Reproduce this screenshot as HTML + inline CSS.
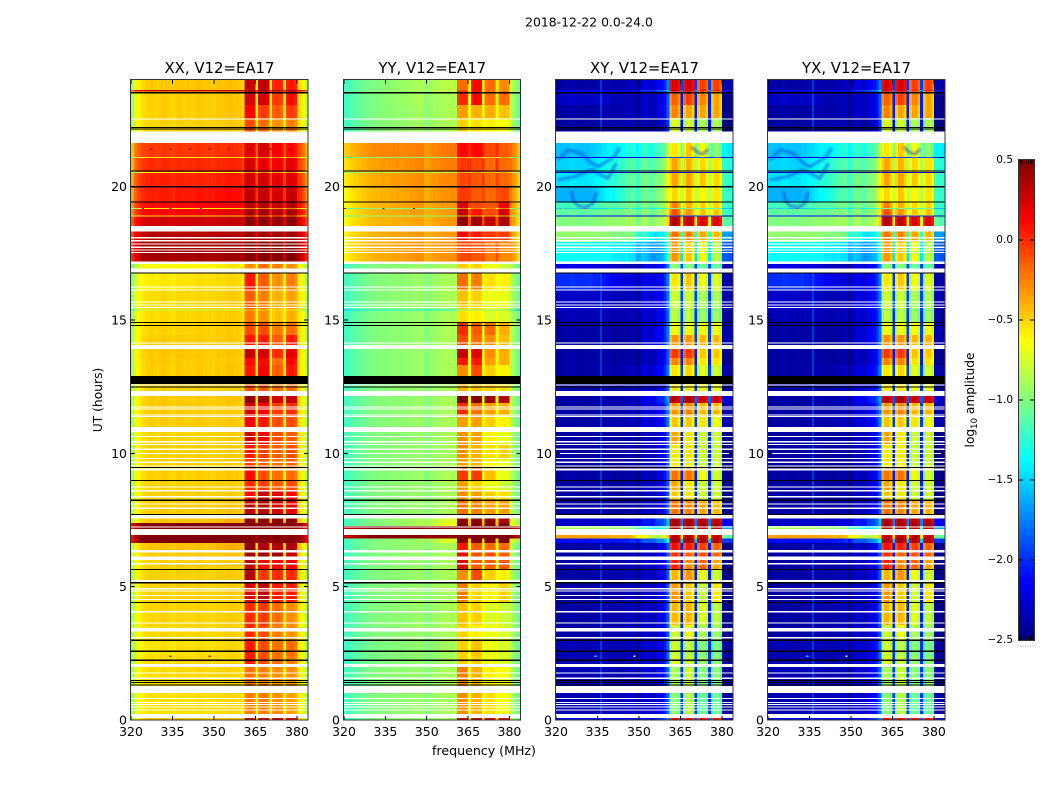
<!DOCTYPE html>
<html>
<head>
<meta charset="utf-8">
<title>2018-12-22 0.0-24.0</title>
<style>
html,body{margin:0;padding:0;background:#fff;}
svg{display:block;}
text{font-family:"DejaVu Sans","Liberation Sans",sans-serif;fill:#000;}
</style>
</head>
<body>
<svg id="chart" xmlns="http://www.w3.org/2000/svg" width="1050" height="800" viewBox="0 0 1050 800">
  <rect x="0" y="0" width="1050" height="800" fill="#fff"/>
  <defs><filter id="soft"><feGaussianBlur stdDeviation="1.4"/></filter></defs>
  <text x="589" y="26.5" font-size="12.4" text-anchor="middle">2018-12-22 0.0-24.0</text>
  <text transform="translate(102,400) rotate(-90)" font-size="12.3" text-anchor="middle">UT (hours)</text>
  <text x="484" y="755" font-size="12.6" text-anchor="middle">frequency (MHz)</text>
  <text transform="translate(974,400) rotate(-90)" font-size="12.2" text-anchor="middle">log<tspan font-size="8.5" dy="3">10</tspan><tspan dy="-3"> amplitude</tspan></text>
  <g id="panels"></g>
  <g id="colorbar"></g>
</svg>
<script>
// ---------- axis tick data ----------
const freqTicks = [320, 335, 350, 365, 380];
const hourTicks = [0, 5, 10, 15, 20];
const colorbarTicks = [-2.5, -2, -1.5, -1, -0.5, 0, 0.5];
const colorbarLabels = ['\u22122.5', '\u22122.0', '\u22121.5', '\u22121.0', '\u22120.5', '0.0', '0.5'];

// ---------- time rows: UT hour at the top edge of each row (last entry is the bottom edge) ----------
const rowHours = [24,23.625,23.561,23.063,22.575,21.638,21.113,21.075,20.55,20.513,20.025,19.425,19.2,19.155,18.919,18.874,18.338,17.925,17.1,16.763,16.125,15.394,15.349,14.925,14.438,13.913,13.575,13.313,12.6,12.15,11.888,11.438,10.8,10.313,9.825,9.488,9.0,8.588,8.25,7.556,7.388,7.275,6.938,6.806,6.638,6.274,6.0,5.625,5.138,4.425,3.563,3.0,2.4,1.988,1.013,0.075,0];

// ---------- frequency channels: band used by each 1 MHz channel, 320..383 MHz ----------
// bands: 0 low, 1 mid, 2 upper continuum, 3-6 the four bright spectral windows
const channelBand = [0,0,0,0,0,0,0,0,0,0,0,0,0,0,0,0,0,0,0,0,
  1,1,1,1,1,1,1,1,1,
  2,2,2,2,2,2,2,2,2,2,2,2,
  3,3,3,3,2,4,4,4,4,2,5,5,5,5,2,6,6,6,6,2,2,2,2];

// ---------- per-channel offsets (log10) added to the band level ----------
const xxChannelOffset = [-.42,-.24,-.14,-.09,-.06,-.04,-.02,-.01,-.03,-.04,-.02,0,0,-.02,-.04,-.05,-.01,-.01,-.02,-.04,
  -.02,-.03,-.04,-.02,-.01,-.02,-.04,-.04,-.03,
  -.06,-.04,-.02,-.03,-.04,-.02,-.01,-.02,-.04,-.03,-.04,-.1,
  0,.02,.02,-.04,-.16,-.02,.02,.02,-.04,-.16,-.02,.02,.02,-.04,-.14,-.02,.02,.02,-.04,-.09,-.14,-.26,-.42];
const yyChannelOffset = [-.2,-.17,-.14,-.12,-.1,-.08,-.06,-.05,-.03,-.02,0,.01,0,.02,.02,0,.01,.02,.02,.03,
  0,.01,.02,.01,.02,.02,.03,.02,.03,
  -.08,-.06,-.05,-.03,-.05,-.03,-.02,-.03,-.02,-.03,-.02,-.01,
  0,.02,.02,0,.22,0,.02,.02,0,.22,0,.02,.02,0,.2,0,.02,.02,0,.02,-.06,-.15,-.25];
const xyChannelOffset = [0,0,0,0,0,.03,.02,0,0,0,0,0,.02,0,0,0,0,0,0,0,
  -.05,-.05,-.03,-.05,-.05,-.02,-.05,-.05,-.05,
  -.2,-.15,-.07,-.1,-.15,-.2,-.2,-.15,-.12,-.1,0,.25,
  -.2,-.05,-.05,-.2,.05,-.2,-.05,-.05,-.2,.05,-.2,-.05,-.05,-.2,.05,-.2,-.05,-.05,-.2,-.35,-.35,-.38,-.38];

// ---------- log10 amplitude per time row: [low, mid, upper, win1, win2, win3, win4] ----------
const xxLevels = [
[-.45,-.42,-.42,.3,.3,.02,.05],[.3,.3,.3,.4,.4,.35,.35],[-.47,-.45,-.42,.25,.25,-.05,.1],[-.47,-.45,-.42,.12,-.05,-.15,-.05],
[-.48,-.46,-.44,-.1,-.2,-.3,-.25],[-.02,0,.02,.2,.25,.15,.1],[-.55,-.55,-.5,-.3,-.3,-.35,-.35],[.02,.03,.05,.25,.2,.15,.2],
[-.6,-.6,-.55,-.3,-.3,-.35,-.3],[.05,.05,.08,.25,.25,.2,.22],[.06,.1,.13,.3,.3,.25,.3],[.12,.15,.2,.35,.35,.3,.35],
[-.55,-.55,-.5,-.3,-.3,-.3,-.3],[.14,.18,.22,.38,.38,.33,.38],[-.5,-.5,-.45,-.2,-.2,-.2,-.2],[.28,.3,.33,.46,.46,.42,.46],
[.36,.36,.38,.42,.4,.4,.42],[.42,.42,.44,.5,.5,.5,.5],[-.62,-.58,-.52,-.3,-.2,-.25,-.3],[-.55,-.5,-.48,.05,-.15,-.3,-.25],
[-.5,-.48,-.45,-.15,-.25,-.4,-.35],[-.85,-.85,-.8,-.5,-.5,-.55,-.55],[-.5,-.47,-.45,-.25,-.3,-.45,-.4],[-.48,-.46,-.44,-.1,-.1,-.25,-.2],
[-.46,-.45,-.44,.05,.05,-.15,.05],[-.44,-.44,-.43,.3,.25,0,.2],[-.45,-.45,-.44,.1,.1,-.2,.1],[-.46,-.45,-.43,.05,.15,-.15,.05],
[-.47,-.46,-.45,-.1,-.15,-.2,-.2],[-.45,-.45,-.42,.45,.4,.25,.3],[-.45,-.45,-.44,.25,.15,-.05,0],[-.46,-.45,-.44,.15,.05,-.1,-.1],
[-.48,-.47,-.45,.25,.15,-.1,-.15],[-.47,-.46,-.45,.05,-.05,-.15,-.1],[-.47,-.46,-.45,-.05,-.15,-.2,-.15],[-.47,-.46,-.44,.1,-.1,-.2,-.2],
[-.47,-.46,-.45,0,-.05,-.15,-.1],[-.47,-.46,-.45,.1,.3,.2,.1],[-.46,-.45,-.42,.3,.35,.25,.2],[-.44,-.43,-.36,.46,.46,.46,.46],
[.56,.56,.56,.5,.5,.5,.5],[.56,.56,.56,.5,.5,.5,.5],[.56,.56,.56,.5,.5,.5,.5],[.56,.56,.56,.5,.5,.5,.5],
[-.43,-.42,-.36,.45,.35,.35,.35],[-.45,-.44,-.42,.4,.4,.4,.3],[-.46,-.45,-.44,.3,.15,.15,.15],[-.47,-.46,-.44,.35,-.05,0,0],
[-.47,-.46,-.45,.2,.3,.05,.05],[-.48,-.47,-.45,0,-.05,-.2,-.3],[-.49,-.48,-.46,0,-.1,-.25,-.3],[-.52,-.5,-.48,.05,-.1,-.2,-.2],
[-.5,-.48,-.47,.05,-.1,-.2,-.25],[-.5,-.48,-.47,-.2,-.25,-.3,-.3],[-.52,-.5,-.48,-.25,-.25,-.3,-.35],[-.45,-.44,-.43,.3,.3,.3,.2]];

const yyLevels = [
[-1,-.9,-.8,-.2,.1,-.2,-.3],[-.98,-.9,-.78,-.1,.1,-.2,-.3],[-1,-.9,-.85,0,.1,-.2,-.2],[-1,-.92,-.85,-.35,-.4,-.4,-.45],
[-1,-.92,-.85,-.5,-.55,-.6,-.65],[-.28,-.28,-.2,.1,.1,-.1,-.15],[-.95,-.95,-.9,-.4,-.4,-.45,-.45],[-.35,-.3,-.22,-.05,-.1,-.2,-.2],
[-.85,-.85,-.8,-.35,-.35,-.4,-.4],[-.38,-.32,-.25,-.1,-.15,-.2,-.2],[-.42,-.35,-.28,-.05,-.15,-.2,-.1],[-.42,-.35,-.3,.2,-.1,-.15,.15],
[-1,-1,-.95,-.3,-.3,-.3,-.3],[-.42,-.36,-.3,.3,.05,-.1,.25],[-.95,-.95,-.9,-.4,-.4,-.4,-.4],[-.42,-.38,-.3,.45,.4,.3,.35],
[-.4,-.35,-.3,.15,.05,-.05,-.05],[-.4,-.33,-.28,-.1,-.15,-.25,-.3],[-1,-.95,-.85,-.5,-.5,-.7,-.8],[-1,-.95,-.85,-.2,-.25,-.55,-.6],
[-1,-.95,-.85,-.45,-.5,-.7,-.7],[-1.4,-1.4,-1.35,-1,-1,-1,-1],[-1,-.95,-.85,-.55,-.6,-.75,-.75],[-1,-.95,-.85,0,-.15,-.2,-.4],
[-1,-.95,-.85,-.1,-.2,-.3,-.45],[-1,-.95,-.85,.3,.2,-.3,-.4],[-1,-.95,-.85,.05,.05,-.35,-.4],[-1,-.95,-.85,-.3,-.1,-.5,-.6],
[-1,-.95,-.85,-.4,-.45,-.5,-.55],[-1,-.95,-.85,.48,.48,.4,.35],[-1,-.95,-.85,0,-.2,-.35,-.4],[-1,-.95,-.85,-.35,-.35,-.5,-.6],
[-1,-.95,-.85,-.3,-.35,-.6,-.7],[-1,-.95,-.85,-.3,-.4,-.55,-.5],[-1,-.95,-.85,-.35,-.4,-.6,-.7],[-1,-.95,-.85,-.05,-.05,-.45,-.7],
[-1,-.95,-.85,-.35,-.5,-.7,-.8],[-1,-.95,-.85,-.3,-.35,-.5,-.55],[-1,-.95,-.85,-.2,-.25,-.35,-.35],[-1,-.9,-.7,.45,.45,.45,.35],
[-1,-.9,-.65,.5,.5,.5,.5],[.5,.5,.5,.5,.5,.5,.5],[.47,.47,.5,.5,.5,.5,.5],[-1,-.95,-.7,.5,.5,.5,.5],
[-1,-.95,-.85,.05,-.15,-.2,-.2],[-1,-.95,-.85,.2,-.1,-.1,-.15],[-1,-.95,-.85,.2,-.15,-.15,-.15],[-1,-.95,-.85,-.3,-.1,-.5,-.6],
[-1,-.95,-.85,-.25,-.5,-.6,-.5],[-1,-.95,-.85,-.45,-.5,-.75,-.8],[-1,-.95,-.85,-.5,-.6,-.7,-.75],[-1.02,-.97,-.87,-.5,-.45,-.7,-.75],
[-1.02,-.97,-.87,-.5,-.5,-.7,-.75],[-1,-.95,-.85,-.25,-.4,-.6,-.65],[-1,-.95,-.85,-.3,-.4,-.55,-.65],[-1,-.95,-.85,.3,.3,.25,.2]];

const xyLevels = [
[-2.4,-2.3,-2,.3,.3,0,0],[-2.2,-2.1,-1.7,.35,.35,.1,.1],[-2.3,-2.3,-2.1,-.1,0,-.2,-.3],[-2.4,-2.3,-2.1,-.2,-.3,-.3,-.3],
[-2.4,-2.3,-2.2,-.65,-.7,-.8,-.8],[-1.55,-1.25,-1.05,-.5,-.4,-.6,-.9],[-2.2,-2.1,-2,-1.8,-1.8,-1.8,-1.8],[-1.5,-1.1,-.9,-.3,-.35,-.45,-.5],
[-2.3,-2.3,-2.3,-2.2,-2.2,-2.2,-2.2],[-1.45,-1.05,-.85,-.3,-.3,-.4,-.45],[-1.6,-1.1,-.85,-.45,-.4,-.55,-.5],[-1.2,-1,-.85,-.2,-.35,-.45,-.45],
[-1.5,-1.3,-1.2,-.9,-.9,-1,-1],[-1.1,-.95,-.82,-.05,-.25,-.4,-.4],[-2.1,-2.1,-2.1,-1.8,-1.8,-1.8,-1.8],[-1,-.85,-.75,.42,.38,.28,.28],
[-.95,-.95,-1.3,-.15,-.2,-.3,-.35],[-1.35,-1.4,-1.5,-.25,-.4,-.6,-.75],[-2.2,-2.3,-2,-.9,-.9,-1,-1],[-2,-2.2,-2,-.5,-.4,-.6,-.65],
[-2.3,-2.3,-2,-.7,-.7,-.8,-.8],[-2.3,-2.3,-2,-.9,-.9,-1,-1],[-2.35,-2.3,-2.05,-.75,-.75,-.85,-.85],[-2.4,-2.35,-2,-.6,-.6,-.6,-.6],
[-2.4,-2.35,-2,-.25,-.25,-.35,-.35],[-2.4,-2.35,-2.1,.02,.02,-.4,-.4],[-2.4,-2.35,-2.1,-.2,-.2,-.5,-.5],[-2.4,-2.3,-2,-.5,-.45,-.65,-.7],
[-2.4,-2.3,-2.05,-.5,-.5,-.6,-.6],[-2.4,-2.3,-1.9,.4,.45,.35,.35],[-2.4,-2.3,-2,-.25,-.2,-.35,-.35],[-2.4,-2.3,-2,-.4,-.4,-.5,-.6],
[-2.4,-2.35,-2.1,-.3,-.5,-.7,-.7],[-2.4,-2.35,-2.1,-.5,-.5,-.7,-.7],[-2.4,-2.35,-2.1,-.5,-.55,-.7,-.7],[-2.4,-2.35,-2.1,-.15,-.15,-.6,-.7],
[-2.4,-2.35,-2.1,-.3,-.5,-.7,-.7],[-2.4,-2.35,-2.1,-.4,-.5,-.7,-.7],[-2.4,-2.35,-2.1,-.15,-.2,-.3,-.35],[-2.3,-2.2,-1.8,.45,.45,.4,.4],
[-2.3,-2.2,-1.8,.45,.45,.45,.45],[-.85,-.9,-1.3,.45,.45,.42,.42],[-.35,-.35,-.7,.4,.42,.4,.38],[-2.1,-2,-1.6,.45,.45,.42,.42],
[-2.4,-2.3,-2.1,.15,.1,0,-.1],[-2.4,-2.3,-2.1,.05,-.1,-.05,-.1],[-2.4,-2.3,-2.1,.1,-.2,-.1,-.3],[-2.4,-2.3,-2.1,-.35,-.25,-.6,-.7],
[-2.4,-2.3,-2.1,-.25,-.4,-.7,-.5],[-2.4,-2.3,-2.1,-.35,-.35,-.65,-.75],[-2.4,-2.3,-2.1,-.7,-.6,-.8,-.85],[-2.35,-2.3,-2.05,-.7,-.75,-.9,-.95],
[-2.35,-2.3,-2.05,-.65,-.7,-.85,-.9],[-2.35,-2.3,-2.05,-.8,-.7,-.9,-.9],[-2.35,-2.25,-2.05,-.9,-.75,-1,-1],[-2.2,-2.1,-1.9,.2,.2,.2,.15]];

// XY and YX are indistinguishable at this resolution, so they share a table.
const yxLevels = xyLevels;

// ---------- narrow interference line in the cross hands ----------
const carrierFreq = 336;
const carrierLevel = -1.8;
const carrierIntervals = [[24,22.1],[16.8,7.6],[6.6,0]];

// ---------- isolated bright samples: [MHz, hour, log10 amplitude] ----------
const xxSpots = [[327,21.4,.4],[334,21.4,.4],[341,21.4,.4],[348,21.4,.4],[355,21.4,.4],[363,21.4,.5],[370,21.4,.5],[377,21.4,.5],[334,2.39,.3],[348,2.39,.3],[324,19.18,.3],[334,19.18,.3],[345,19.18,.3]];
const yySpots = [[334,19.18,.35],[345,19.18,.35],[320,19.18,.2]];
const xySpots = [[334,2.39,-1.4],[348,2.39,-.7],[322,19.18,-.4],[330,19.18,-.1],[345,19.18,-.3],[352,19.18,-.4]];

// ---------- low-amplitude arcs in the cross hands: MHz and UT hour traces ----------
const arcFreqs = [
  [325.5,326.1,328,331,333.4,334.6],
  [320.7,324.3,329.1,332.8,335.2,341.2,343],
  [320.7,326.8,332.8,338.8,341.8],
  [369,371,373,375]];
const arcHours = [
  [19.88,19.5,19.28,19.23,19.38,19.81],
  [21,21.38,21.25,20.88,20.75,21.13,21.47],
  [20.25,20.38,20.63,20.31,20.88],
  [21.5,21.3,21.2,21.4]];

// ---------- flagged data: hour intervals [upper, lower] ----------
const whiteIntervals = [[22.556,22.519],[22.069,21.638],[18.525,18.326],[18.113,18.056],[18,17.951],[17.869,17.824],[17.749,17.7],[17.644,17.599],[17.55,17.513],[17.201,17.1],[16.939,16.774],[16.264,16.226],[16.151,16.099],[15.701,15.664],[15.589,15.536],[15.488,15.45],[14.164,14.126],[14.063,13.913],[12.581,12.544],[12.338,12.15],[11.756,11.719],[11.689,11.663],[11.456,11.426],[11.4,11.374],[10.988,10.8],[10.65,10.613],[10.463,10.414],[10.35,10.313],[10.174,10.125],[10.005,9.975],[9.825,9.788],[9.686,9.638],[9.551,9.499],[9.424,9.364],[8.764,8.711],[8.625,8.576],[8.4,8.351],[8.126,8.074],[7.961,7.913],[7.688,7.556],[7.264,7.238],[7.163,6.938],[6.375,6.274],[6.124,6],[5.888,5.831],[5.25,5.175],[4.95,4.894],[4.856,4.819],[4.688,4.65],[4.538,4.5],[4.088,4.031],[3.664,3.626],[3.45,3.311],[3.113,3.064],[2.1,1.988],[1.789,1.736],[1.601,1.538],[1.275,1.013],[.825,.788],[.675,.638],[.6,.563],[.499,.461],[.386,.349],[.225,.075]];
const blackIntervals = [[23.55,23.49],[22.235,22.195],[22.175,22.135],[20.61,20.566],[20.03,19.96],[19.447,19.403],[16.785,16.741],[14.928,14.884],[14.816,14.772],[12.9,12.6],[12.51,12.466],[9.491,9.447],[9.003,8.959],[8.261,8.217],[7.728,7.684],[5.666,5.622],[5.171,5.127],[4.428,4.384],[3.011,2.967],[2.598,2.554],[2.261,2.217],[1.503,1.459],[1.428,1.384],[1.335,1.291]];

// ---------- colour scale and axes ----------
const vMin = -2.5, vMax = 0.5;
const freqMin = 320, freqMax = 384, hourMin = 0, hourMax = 24;
const plotTop = 80, plotBottom = 720;
const NS = 'http://www.w3.org/2000/svg';

function clamp01(v){ return Math.max(0, Math.min(1, v)); }
function jet(value){
  const t = clamp01((value - vMin) / (vMax - vMin));
  const r = Math.round(255 * clamp01(1.5 - Math.abs(4 * t - 3)));
  const g = Math.round(255 * clamp01(1.5 - Math.abs(4 * t - 2)));
  const b = Math.round(255 * clamp01(1.5 - Math.abs(4 * t - 1)));
  return 'rgb(' + r + ',' + g + ',' + b + ')';
}
// Display smoothing like the reference's image interpolation: the continuum
// below the windows ramps between the low, mid and upper band levels.
function bandLevel(row, c){
  const band = channelBand[c];
  if (band > 2 || c > 40) return row[band];
  if (c <= 12) return row[0];
  if (c <= 26) return row[0] + (row[1] - row[0]) * (c - 12) / 14;
  if (c <= 36) return row[1] + (row[2] - row[1]) * (c - 26) / 10;
  return row[2];
}
function yScale(hour){ return plotBottom - (hour - hourMin) / (hourMax - hourMin) * (plotBottom - plotTop); }
function xScale(panel, freq){ return panel.left + (freq - freqMin) / (freqMax - freqMin) * panel.width; }
function svgEl(tag, attrs, parent){
  const el = document.createElementNS(NS, tag);
  for (const k in attrs) el.setAttribute(k, attrs[k]);
  parent.appendChild(el);
  return el;
}

const panelDefs = [
  {key:'xx', title:'XX, V12=EA17', left:131, width:177, levels:xxLevels, offsets:xxChannelOffset, spots:xxSpots, cross:false},
  {key:'yy', title:'YY, V12=EA17', left:344, width:176.5, levels:yyLevels, offsets:yyChannelOffset, spots:yySpots, cross:false},
  {key:'xy', title:'XY, V12=EA17', left:556, width:177, levels:xyLevels, offsets:xyChannelOffset, spots:xySpots, cross:true},
  {key:'yx', title:'YX, V12=EA17', left:768, width:177, levels:yxLevels, offsets:xyChannelOffset, spots:xySpots, cross:true}
];

const root = document.getElementById('panels');
panelDefs.forEach(function(panel){
  const g = svgEl('g', {}, root);
  
  

  const clipId = 'clip-' + panel.key;
  const clip = svgEl('clipPath', {id: clipId}, g);
  svgEl('rect', {x: panel.left, y: plotTop, width: panel.width, height: plotBottom - plotTop}, clip);

  const title = svgEl('text', {x: panel.left + panel.width / 2, y: 73, 'font-size': 14.9, 'text-anchor': 'middle'}, g);
  
  
  title.textContent = panel.title;

  const cells = svgEl('g', {'shape-rendering': 'crispEdges', 'clip-path': 'url(#' + clipId + ')'}, g);
  
  

  panel.levels.forEach(function(row, r){
    const y0 = yScale(rowHours[r]);
    const y1 = yScale(rowHours[r + 1]);
    channelBand.forEach(function(band, c){
      const x0 = xScale(panel, freqMin + c);
      const x1 = xScale(panel, freqMin + c + 1);
      const cell = svgEl('rect', {x: x0, y: y0, width: x1 - x0 + 0.4, height: y1 - y0 + 0.4, fill: jet(bandLevel(row, c) + panel.offsets[c])}, cells);
      
      
    });
  });

  if (panel.cross) {
    carrierIntervals.forEach(function(iv){
      const carrier = svgEl('rect', {x: xScale(panel, carrierFreq), y: yScale(iv[0]), width: 1.4, height: yScale(iv[1]) - yScale(iv[0]), fill: jet(carrierLevel)}, cells);
      
      
    });
  }

  panel.spots.forEach(function(s){
    const spot = svgEl('rect', {x: xScale(panel, s[0]), y: yScale(s[1]) - 0.6, width: 2, height: 1.2, fill: jet(s[2])}, cells);
    
    
  });

  if (panel.cross) {
    const arcGroup = svgEl('g', {'clip-path': 'url(#' + clipId + ')'}, g);
    
    
    arcFreqs.forEach(function(fs, i){
      const pts = fs.map(function(f, j){ return xScale(panel, f) + ',' + yScale(arcHours[i][j]); }).join(' ');
      const arc = svgEl('polyline', {points: pts, fill: 'none', stroke: '#1030e0', 'stroke-width': 2.6, 'stroke-linejoin': 'round', 'stroke-opacity': 0.6, filter: 'url(#soft)'}, arcGroup);
      
      
    });
  }

  const flags = svgEl('g', {'shape-rendering': 'crispEdges'}, g);
  
  
  whiteIntervals.forEach(function(iv){
    const band = svgEl('rect', {x: panel.left, y: yScale(iv[0]), width: panel.width, height: Math.max(1, yScale(iv[1]) - yScale(iv[0])), fill: '#fff'}, flags);
    
    
  });
  blackIntervals.forEach(function(iv){
    const band = svgEl('rect', {x: panel.left, y: yScale(iv[0]), width: panel.width, height: Math.max(1, yScale(iv[1]) - yScale(iv[0])), fill: '#000'}, flags);
    
    
  });

  const axes = svgEl('g', {stroke: '#000', 'stroke-width': 1, 'shape-rendering': 'crispEdges'}, g);
  
  
  freqTicks.forEach(function(f){
    const x = xScale(panel, f);
    const tickBottom = svgEl('line', {x1: x, x2: x, y1: plotBottom, y2: plotBottom - 4}, axes);
    
    
    const tickTop = svgEl('line', {x1: x, x2: x, y1: plotTop, y2: plotTop + 4}, axes);
    
    
    const label = svgEl('text', {x: x, y: 736, 'font-size': 12.5, 'text-anchor': 'middle', stroke: 'none'}, g);
    
    
    label.textContent = String(f);
  });
  hourTicks.forEach(function(h){
    const y = yScale(h);
    const tickLeft = svgEl('line', {x1: panel.left, x2: panel.left + 4, y1: y, y2: y}, axes);
    
    
    const tickRight = svgEl('line', {x1: panel.left + panel.width, x2: panel.left + panel.width - 4, y1: y, y2: y}, axes);
    
    
    const label = svgEl('text', {x: panel.left - 4, y: y + 4.5, 'font-size': 12.5, 'text-anchor': 'end', stroke: 'none'}, g);
    
    
    label.textContent = String(h);
  });
  const frame = svgEl('rect', {x: panel.left - 0.5, y: plotTop - 0.5, width: panel.width + 0.5, height: plotBottom - plotTop + 0.5, fill: 'none', stroke: '#333', 'stroke-width': 1}, axes);
  
  
});

// ---------- colorbar ----------
const cb = document.getElementById('colorbar');
const cbLeft = 1019, cbRight = 1034, cbTop = 160, cbBottom = 640;
function cbScale(v){ return cbBottom - (v - vMin) / (vMax - vMin) * (cbBottom - cbTop); }
const cbSteps = 240;
const cbCells = svgEl('g', {'shape-rendering': 'crispEdges'}, cb);


for (let i = 0; i < cbSteps; i++) {
  const v0 = vMin + (vMax - vMin) * i / cbSteps;
  const v1 = vMin + (vMax - vMin) * (i + 1) / cbSteps;
  const step = svgEl('rect', {x: cbLeft, y: cbScale(v1), width: cbRight - cbLeft, height: cbScale(v0) - cbScale(v1) + 0.4, fill: jet((v0 + v1) / 2)}, cbCells);
  
  
}
colorbarTicks.forEach(function(v, i){
  const y = cbScale(v);
  const tickA = svgEl('line', {x1: cbLeft, x2: cbLeft + 4, y1: y, y2: y, stroke: '#000', 'shape-rendering': 'crispEdges'}, cb);
  
  
  const tickB = svgEl('line', {x1: cbRight, x2: cbRight - 4, y1: y, y2: y, stroke: '#000', 'shape-rendering': 'crispEdges'}, cb);
  
  
  const label = svgEl('text', {x: cbLeft - 6, y: y + 3, 'font-size': 10.5, 'text-anchor': 'end'}, cb);
  
  
  label.textContent = colorbarLabels[i];
});
for (let i = 0; i < 6; i++) {
  const x = cbLeft + 2 + i * 2.5;
  const topMark = svgEl('line', {x1: x, x2: x, y1: cbTop, y2: cbTop + 4, stroke: '#000', 'shape-rendering': 'crispEdges'}, cb);
  
  
  const bottomMark = svgEl('line', {x1: x, x2: x, y1: cbBottom, y2: cbBottom - 4, stroke: '#000', 'shape-rendering': 'crispEdges'}, cb);
  
  
  const dot = svgEl('rect', {x: x - 1, y: 645.5, width: 1, height: 1, fill: '#999'}, cb);
  
  
}
const cbFrame = svgEl('rect', {x: cbLeft - 0.5, y: cbTop - 0.5, width: cbRight - cbLeft + 1, height: cbBottom - cbTop + 1, fill: 'none', stroke: '#333', 'shape-rendering': 'crispEdges'}, cb);


</script>
</body>
</html>
